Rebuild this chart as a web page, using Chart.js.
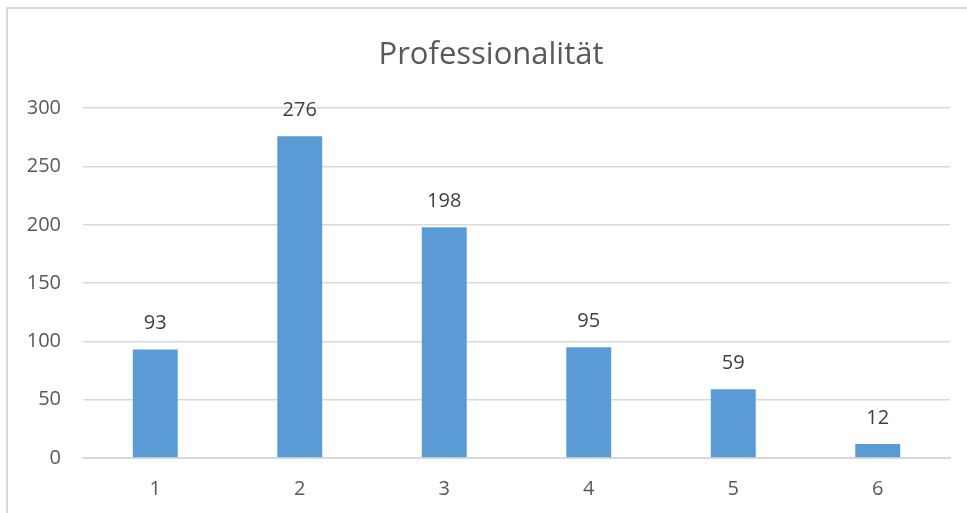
<!DOCTYPE html>
<html>
<head>
<meta charset="utf-8">
<script src="https://cdn.jsdelivr.net/npm/chart.js@4"></script>
<style>
  html, body { margin: 0; padding: 0; background: #fff; }
  #wrap { position: relative; width: 967px; height: 513px; }
  #frame {
    position: absolute; left: 6px; top: 7px; right: 0; bottom: 0;
    border-top: 2px solid #d9d9d9; border-left: 2px solid #d9d9d9;
    pointer-events: none;
  }
  canvas { position: absolute; left: 0; top: 0; }
</style>
</head>
<body>
<div id="wrap">
  <canvas id="chart" width="967" height="513"></canvas>
  <div id="frame"></div>
</div>
<script>
(() => {
  'use strict';

  /* ── Data ─────────────────────────────────────────────── */
  const TITLE      = 'Professionalität';
  const categories = ['1', '2', '3', '4', '5', '6'];
  const counts     = [93, 276, 198, 95, 59, 12];
  const yTicks     = [0, 50, 100, 150, 200, 250, 300];

  const FONT = "'Open Sans', 'Noto Sans', sans-serif";
  const GREY = '#595959';
  const TITLE_FONT = { family: FONT, size: 31, weight: 'normal', lineHeight: 1.2 };

  /* ── Value labels above bars + title centred on the frame ── */
  const overlay = {
    id: 'overlay',
    afterDatasetsDraw(chart) {
      const { ctx } = chart;
      const meta = chart.getDatasetMeta(0);
      ctx.save();
      ctx.font = '20px ' + FONT;
      ctx.fillStyle = '#404040';
      ctx.textAlign = 'center';
      ctx.textBaseline = 'middle';
      meta.data.forEach((bar, i) => {
        ctx.fillText(String(counts[i]), bar.x, bar.y - 26);
      });

      // the built-in title only reserves space; text is drawn here
      const tb = chart.titleBlock;
      const cy = tb.top + tb.options.padding.top + (TITLE_FONT.size * TITLE_FONT.lineHeight) / 2;
      ctx.font = TITLE_FONT.size + 'px ' + FONT;
      ctx.fillStyle = GREY;
      ctx.fillText(TITLE, 491, cy);
      ctx.restore();
    },
  };

  new Chart(document.getElementById('chart').getContext('2d'), {
    type: 'bar',
    data: {
      labels: categories,
      datasets: [{
        data: counts,
        backgroundColor: '#5b9bd5',
        borderWidth: 0,
        categoryPercentage: 1,
        barPercentage: 0.311,
      }],
    },
    options: {
      responsive: false,
      animation: false,
      layout: { padding: { top: 0, right: 17, bottom: 0, left: 0 } },
      plugins: {
        legend: { display: false },
        tooltip: { enabled: false },
        title: {
          display: true,
          text: TITLE,
          color: 'rgba(0,0,0,0)',
          font: TITLE_FONT,
          padding: { top: 37, bottom: 34 },
        },
      },
      scales: {
        x: {
          grid: { display: false, drawTicks: false },
          border: { color: '#d9d9d9', width: 2 },
          ticks: { color: GREY, font: { family: FONT, size: 20 }, padding: 19 },
          afterFit: s => { s.height = 55; },
        },
        y: {
          min: 0,
          max: 300,
          afterBuildTicks: s => { s.ticks = yTicks.map(v => ({ value: v })); },
          grid: { color: '#d9d9d9', lineWidth: 1.5, drawTicks: false },
          border: { display: false },
          ticks: { color: GREY, font: { family: FONT, size: 20 }, padding: 22 },
          afterFit: s => { s.width = 83; },
        },
      },
    },
    plugins: [overlay],
  });
})();
</script>
</body>
</html>
